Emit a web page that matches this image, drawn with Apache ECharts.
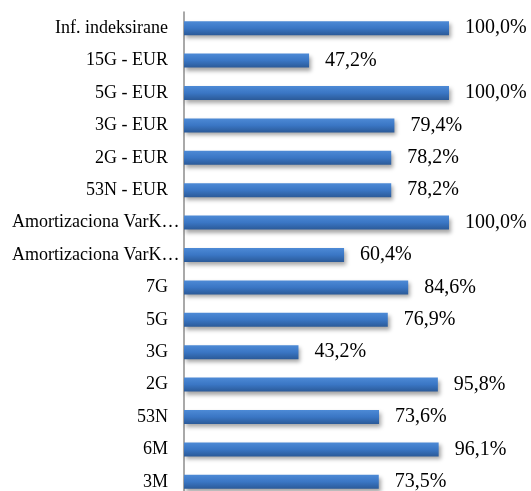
<!DOCTYPE html>
<html>
<head>
<meta charset="utf-8">
<script src="https://cdn.jsdelivr.net/npm/echarts@6/dist/echarts.min.js"></script>
<style>
  html, body { margin: 0; padding: 0; background: #fff; }
  #chart { width: 531px; height: 491px; }
</style>
</head>
<body>
<div id="chart"></div>
<script>
// categories listed top to bottom
var categories = ['Inf. indeksirane', '15G - EUR', '5G - EUR', '3G - EUR', '2G - EUR', '53N - EUR',
  'Amortizaciona VarK…', 'Amortizaciona VarK… ', '7G', '5G', '3G', '2G', '53N', '6M', '3M'];
var values = [100, 47.2, 100, 79.4, 78.2, 78.2, 100, 60.4, 84.6, 76.9, 43.2, 95.8, 73.6, 96.1, 73.5];

var myChart = echarts.init(document.getElementById('chart'));

var option = {
  animation: false,
  grid: { left: 184, right: 82, top: 12, height: 486, outerBoundsMode: 'none' },
  xAxis: {
    type: 'value',
    min: 0,
    max: 100,
    show: false
  },
  yAxis: {
    type: 'category',
    inverse: true,
    data: categories,
    axisLine: { lineStyle: { color: '#8c8c8c', width: 1.5 } },
    axisTick: { length: 5, lineStyle: { color: '#8c8c8c' } },
    axisLabel: {
      margin: 16,
      color: '#000',
      fontFamily: 'Liberation Serif',
      fontSize: 18,
      // the cut-off names run up to the axis line, like in the original
      formatter: function (v) {
        return v.indexOf('…') >= 0 ? '{t|' + v.trim() + '}' : v;
      },
      rich: {
        t: { width: 156, align: 'left', fontFamily: 'Liberation Serif', fontSize: 18, color: '#000' }
      }
    }
  },
  series: [{
    type: 'bar',
    data: values,
    barWidth: 14,
    itemStyle: {
      color: new echarts.graphic.LinearGradient(0, 0, 0, 1, [
        { offset: 0, color: '#4d8ad6' },
        { offset: 0.5, color: '#3a76c4' },
        { offset: 1, color: '#2b5a98' }
      ]),
      shadowColor: 'rgba(0,0,0,0.35)',
      shadowBlur: 4,
      shadowOffsetX: 2,
      shadowOffsetY: 3
    },
    label: {
      show: true,
      position: 'right',
      distance: 16,
      color: '#000',
      fontFamily: 'Liberation Serif',
      fontSize: 20,
      formatter: function (p) {
        return p.value.toFixed(1).replace('.', ',') + '%';
      }
    }
  }]
};

myChart.setOption(option);
</script>
</body>
</html>
